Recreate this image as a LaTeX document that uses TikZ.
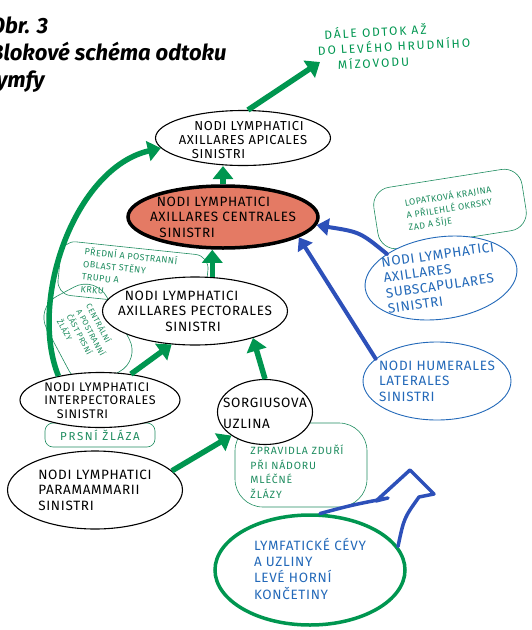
\documentclass[tikz,border=0pt]{standalone}
\usepackage{fontspec}
\setmainfont{Fira Sans}
\newfontfamily\handfont{Fira Sans}[LetterSpace=5]
\newfontfamily\titlefont{Fira Sans}
\usetikzlibrary{arrows.meta,positioning,shapes.geometric,calc}

\definecolor{penGreen}{RGB}{0,150,80}
\definecolor{noteGreen}{RGB}{30,140,95}
\definecolor{penBlue}{RGB}{45,80,185}
\definecolor{inkBlue}{RGB}{35,105,185}
\definecolor{nodeRed}{RGB}{228,122,100}

% text block of zero size, so the ellipse keeps the size given to it
\newcommand{\handtext}[1]{\smash{\makebox[0pt]{\lower5pt\hbox{$\vcenter{\hbox{\begin{tabular}{@{}l@{}}#1\end{tabular}}}$}}}}

\begin{document}
\begin{tikzpicture}[x=1pt,y=-1pt,
  font=\handfont\fontsize{13.5}{15.5}\selectfont,
  lymphnode/.style={draw, ellipse, line width=1.1pt, fill=white, inner sep=0pt},
  bluenode/.style={lymphnode, draw=inkBlue, text=inkBlue, line width=0.9pt},
  notebox/.style={draw=noteGreen, line width=0.6pt, text=noteGreen, rounded corners=14pt, inner sep=0pt,
    font=\handfont\fontsize{9}{12.5}\selectfont},
  greenflow/.style={draw=penGreen, line width=5.5pt, -{Triangle[length=13pt,width=20pt]}},
  blueflow/.style={draw=penBlue, line width=4pt, line cap=round, -{Triangle[length=12pt,width=17pt]}}
]
\path[use as bounding box] (0,0) rectangle (531,630);

% title
\node[anchor=north west, inner sep=0pt, align=left,
  font=\titlefont\bfseries\itshape\fontsize{22}{27}\selectfont] (title) at (-10,17)
  {Obr. 3\\Blokové schéma odtoku\\lymfy};
\node[text=penGreen, rotate=3, font=\handfont\addfontfeature{LetterSpace=16}\fontsize{12}{15.5}\selectfont] (duct) at (394,46)
  {\handtext{\hspace*{0.6em}DÁLE ODTOK AŽ\\DO LEVÉHO HRUDNÍHO\\\hspace*{1.6em}MÍZOVODU}};

% notes behind the nodes
\node[notebox, rotate=-6, minimum width=148pt, minimum height=54pt] (frontnote) at (133,275)
  {\hspace*{-8pt}\raisebox{3pt}{\handtext{PŘEDNÍ A POSTRANNÍ\\OBLAST STĚNY\\TRUPU A\\KRKU}}};
\node[notebox, rotate=-62, rounded corners=24pt, minimum width=96pt, minimum height=68pt,
  font=\handfont\fontsize{8}{11}\selectfont] (glandnote) at (88,334)
  {\handtext{CENTRÁLNÍ\\A POSTRANNÍ\\ČÁST PRSNÍ\\ŽLÁZY}};
\node[notebox, rotate=9, rounded corners=18pt, minimum width=150pt, minimum height=62pt] (scapnote) at (450,209)
  {\raisebox{5pt}{\handtext{LOPATKOVÁ KRAJINA\\A PŘILEHLÉ OKRSKY\\ZAD A ŠÍJE}}};
\node[notebox, rounded corners=8pt, minimum width=110pt, minimum height=24pt,
  font=\handfont\addfontfeature{LetterSpace=14}\fontsize{11.5}{12}\selectfont] (breast) at (100,435)
  {\raisebox{-7pt}{PRSNÍ ŽLÁZA}};
\node[notebox, rounded corners=28pt, minimum width=132pt, minimum height=84pt,
  font=\handfont\addfontfeature{LetterSpace=8}\fontsize{10.5}{14.5}\selectfont] (sorgnote) at (301,465)
  {\hspace*{-8pt}\raisebox{-13pt}{\handtext{ZPRAVIDLA ZDUŘÍ\\PŘI NÁDORU\\MLÉČNÉ\\ŽLÁZY}}};

% lymph nodes
\node[lymphnode, minimum width=175pt, minimum height=55pt, font=\handfont\fontsize{13}{14}\selectfont] (apical) at (243,138)
  {\raisebox{-3pt}{\handtext{\hspace*{1.2em}NODI LYMPHATICI\\AXILLARES APICALES\\\hspace*{1em}SINISTRI}}};
\node[lymphnode, fill=nodeRed, line width=3.5pt, minimum width=190pt, minimum height=62pt] (central) at (223,217)
  {\handtext{\hspace*{0.5em}NODI LYMPHATICI\\AXILLARES CENTRALES\\\hspace*{0.7em}SINISTRI}};
\node[lymphnode, minimum width=185pt, minimum height=68pt] (pectoral) at (195,311)
  {\handtext{\hspace*{0.5em}NODI LYMPHATICI\\AXILLARES PECTORALES\\\hspace*{3.5em}SINISTRI}};
\node[bluenode, rotate=8, minimum width=153pt, minimum height=82pt] (subscap) at (441,278)
  {\handtext{NODI LYMPHATICI\\AXILLARES\\SUBSCAPULARES\\SINISTRI}};
\node[bluenode, minimum width=148pt, minimum height=78pt] (humer) at (437,381)
  {\handtext{NODI HUMERALES\\LATERALES\\SINISTRI}};
\node[lymphnode, minimum width=160pt, minimum height=55pt,
  font=\handfont\fontsize{12.5}{13.5}\selectfont] (interpect) at (100,400)
  {\handtext{NODI LYMPHATICI\\INTERPECTORALES\\\hspace*{1em}SINISTRI}};
\node[lymphnode, minimum width=95pt, minimum height=65pt, font=\handfont\fontsize{13.5}{21}\selectfont] (sorgius) at (265,412)
  {\handtext{SORGIUSOVA\\UZLINA}};
\node[lymphnode, minimum width=175pt, minimum height=78pt] (para) at (95,490)
  {\handtext{NODI LYMPHATICI\\PARAMAMMARII\\SINISTRI}};
\node[lymphnode, draw=penGreen, text=inkBlue, line width=3.5pt, minimum width=190pt, minimum height=110pt] (limb) at (310,570)
  {\handtext{LYMFATICKÉ CÉVY\\A UZLINY\\LEVÉ HORNÍ\\KONČETINY}};

% green connectors
\coordinate (toDuct) at (320,62);
\draw[greenflow] (apical.80) -- (toDuct);
\draw[greenflow] (central.north) -- (central.north |- apical.south);
\draw[greenflow] (pectoral.63) -- (pectoral.63 |- central.south);
\draw[greenflow] (interpect.150) .. controls (28,300) and (75,168) .. (apical.187);
\draw[greenflow] (interpect.40) -- (pectoral.235);
\draw[greenflow] (sorgius.north) -- (pectoral.335);
\draw[greenflow] (para.14) -- (sorgius.215);

% blue connectors
\draw[blueflow] (subscap.148) .. controls (360,232) .. (central.-5);
\draw[blueflow] (humer.160) -- (central.-15);
\coordinate (shaftL) at (388,498);
\coordinate (headL) at (376,501);
\coordinate (apex) at (410,470);
\coordinate (headR) at (434,494);
\coordinate (shaftR) at (419,497);
\draw[penBlue, line width=3.5pt, line join=round, line cap=round]
  (limb.80) .. controls (352,505) .. (shaftL) -- (headL) -- (apex) -- (headR) -- (shaftR)
  .. controls (404,518) .. (limb.15);
\end{tikzpicture}
\end{document}
